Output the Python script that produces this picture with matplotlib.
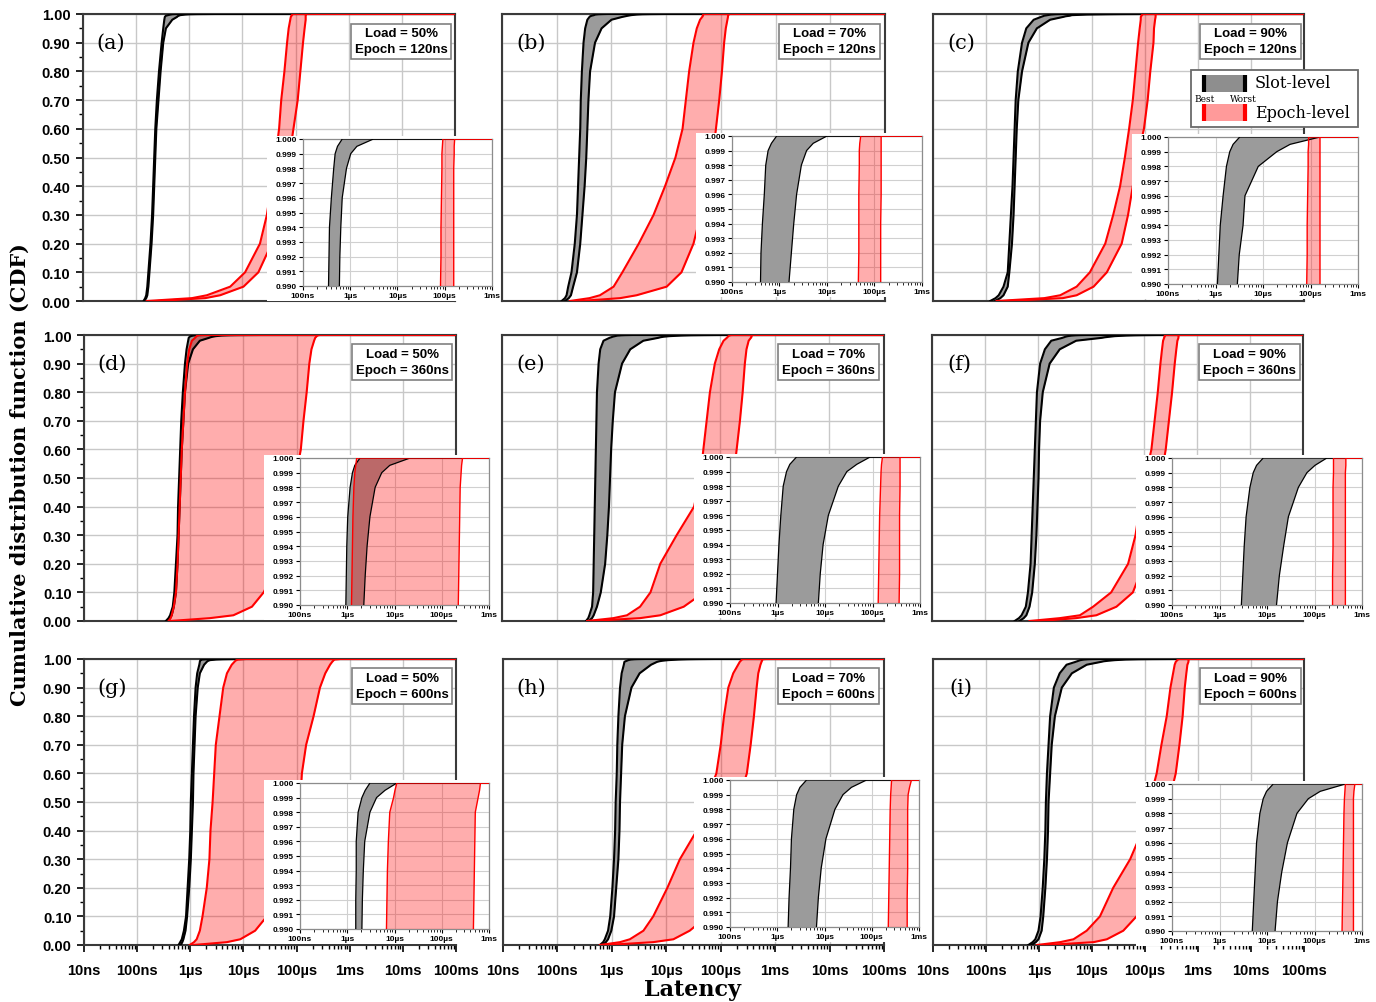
import numpy as np
import matplotlib
matplotlib.use("Agg")
import matplotlib.pyplot as plt
from matplotlib.patches import Rectangle
from matplotlib.lines import Line2D
from matplotlib.ticker import FixedLocator, LogLocator, MultipleLocator, NullFormatter

W, H = 1376, 1003

CDF_LEVELS = [0.0, 0.01, 0.02, 0.05, 0.1, 0.2, 0.3, 0.4, 0.5, 0.6, 0.7, 0.8,
              0.9, 0.95, 0.98, 0.99, 0.992, 0.994, 0.996, 0.998, 0.999, 0.9995, 1.0]

PANEL_TAGS = ["(a)", "(b)", "(c)", "(d)", "(e)", "(f)", "(g)", "(h)", "(i)"]
LOADS = ["50%", "70%", "90%", "50%", "70%", "90%", "50%", "70%", "90%"]
EPOCHS = ["120ns", "120ns", "120ns", "360ns", "360ns", "360ns", "600ns", "600ns", "600ns"]

# latency values, log10 of nanoseconds, one list per panel
SLOT_BEST = [
    [2.14, 2.17, 2.19, 2.21, 2.23, 2.27, 2.30, 2.32, 2.34, 2.36, 2.39, 2.43, 2.48, 2.51, 2.53, 2.54, 2.55, 2.56, 2.60, 2.65, 2.68, 2.73, 2.83],
    [2.09, 2.15, 2.18, 2.21, 2.27, 2.33, 2.37, 2.39, 2.41, 2.43, 2.44, 2.46, 2.49, 2.52, 2.56, 2.60, 2.61, 2.64, 2.68, 2.71, 2.76, 2.83, 2.94],
    [2.08, 2.18, 2.24, 2.33, 2.41, 2.44, 2.47, 2.50, 2.52, 2.54, 2.56, 2.60, 2.68, 2.76, 2.90, 3.04, 3.07, 3.10, 3.16, 3.23, 3.30, 3.37, 3.51],
    [2.54, 2.59, 2.62, 2.67, 2.70, 2.73, 2.76, 2.77, 2.79, 2.81, 2.83, 2.86, 2.90, 2.93, 2.96, 2.97, 2.98, 2.99, 3.01, 3.06, 3.11, 3.16, 3.27],
    [2.54, 2.58, 2.60, 2.65, 2.67, 2.68, 2.69, 2.70, 2.71, 2.72, 2.73, 2.74, 2.77, 2.80, 2.86, 2.97, 3.00, 3.03, 3.07, 3.12, 3.19, 3.26, 3.40],
    [2.56, 2.64, 2.69, 2.77, 2.81, 2.86, 2.88, 2.90, 2.92, 2.94, 2.96, 2.98, 3.04, 3.13, 3.25, 3.46, 3.49, 3.52, 3.56, 3.64, 3.71, 3.78, 3.92],
    [2.78, 2.81, 2.84, 2.88, 2.92, 2.95, 2.98, 3.00, 3.01, 3.03, 3.05, 3.07, 3.10, 3.13, 3.17, 3.18, 3.18, 3.19, 3.19, 3.23, 3.31, 3.38, 3.48],
    [2.78, 2.84, 2.87, 2.93, 2.97, 3.01, 3.04, 3.06, 3.07, 3.09, 3.10, 3.12, 3.15, 3.18, 3.22, 3.23, 3.25, 3.28, 3.30, 3.35, 3.41, 3.48, 3.62],
    [2.80, 2.88, 2.93, 2.99, 3.03, 3.07, 3.10, 3.12, 3.13, 3.15, 3.18, 3.21, 3.28, 3.39, 3.52, 3.69, 3.72, 3.75, 3.78, 3.85, 3.92, 3.99, 4.13],
]
SLOT_WORST = [
    [2.15, 2.19, 2.21, 2.23, 2.25, 2.29, 2.32, 2.34, 2.36, 2.38, 2.42, 2.46, 2.51, 2.56, 2.68, 2.77, 2.78, 2.80, 2.83, 2.92, 3.01, 3.14, 3.49],
    [2.15, 2.22, 2.26, 2.30, 2.37, 2.43, 2.47, 2.51, 2.54, 2.56, 2.58, 2.61, 2.70, 2.82, 3.00, 3.20, 3.25, 3.30, 3.36, 3.46, 3.57, 3.71, 4.00],
    [2.17, 2.27, 2.33, 2.41, 2.44, 2.49, 2.52, 2.54, 2.56, 2.58, 2.61, 2.68, 2.80, 2.96, 3.21, 3.46, 3.50, 3.58, 3.62, 3.90, 4.29, 4.57, 5.20],
    [2.57, 2.62, 2.65, 2.69, 2.73, 2.76, 2.78, 2.80, 2.82, 2.84, 2.87, 2.90, 2.96, 3.05, 3.18, 3.35, 3.38, 3.42, 3.48, 3.59, 3.73, 3.90, 4.33],
    [2.59, 2.65, 2.68, 2.74, 2.81, 2.89, 2.93, 2.96, 2.98, 3.00, 3.03, 3.07, 3.20, 3.35, 3.59, 3.86, 3.90, 3.96, 4.07, 4.28, 4.46, 4.67, 4.95],
    [2.65, 2.73, 2.78, 2.84, 2.89, 2.94, 2.97, 2.99, 3.01, 3.02, 3.04, 3.09, 3.22, 3.41, 3.72, 4.20, 4.26, 4.35, 4.45, 4.66, 4.84, 5.01, 5.26],
    [2.82, 2.85, 2.87, 2.91, 2.94, 2.98, 3.01, 3.03, 3.05, 3.06, 3.08, 3.10, 3.14, 3.18, 3.26, 3.31, 3.32, 3.34, 3.37, 3.48, 3.62, 3.80, 4.05],
    [2.83, 2.89, 2.93, 2.99, 3.04, 3.08, 3.12, 3.14, 3.15, 3.17, 3.19, 3.24, 3.36, 3.51, 3.72, 3.83, 3.87, 3.93, 4.03, 4.22, 4.39, 4.57, 4.89],
    [2.86, 2.94, 2.99, 3.05, 3.08, 3.12, 3.15, 3.17, 3.18, 3.21, 3.24, 3.30, 3.43, 3.62, 3.90, 4.17, 4.22, 4.31, 4.43, 4.63, 4.87, 5.12, 5.65],
]
EPOCH_BEST = [
    [2.20, 3.05, 3.33, 3.77, 4.05, 4.33, 4.46, 4.54, 4.62, 4.69, 4.73, 4.79, 4.84, 4.87, 4.90, 4.91, 4.92, 4.92, 4.93, 4.94, 4.94, 4.95, 4.96],
    [2.24, 2.60, 2.79, 3.04, 3.20, 3.50, 3.77, 3.98, 4.17, 4.30, 4.36, 4.42, 4.50, 4.56, 4.62, 4.66, 4.67, 4.67, 4.67, 4.68, 4.68, 4.69, 4.71],
    [2.20, 3.10, 3.40, 3.71, 3.96, 4.25, 4.40, 4.53, 4.62, 4.70, 4.77, 4.82, 4.87, 4.90, 4.92, 4.92, 4.93, 4.93, 4.94, 4.95, 4.95, 4.96, 4.96],
    [2.59, 2.63, 2.65, 2.69, 2.73, 2.76, 2.78, 2.80, 2.82, 2.84, 2.87, 2.90, 2.94, 2.98, 3.03, 3.09, 3.10, 3.11, 3.12, 3.14, 3.16, 3.18, 3.20],
    [2.56, 3.04, 3.29, 3.53, 3.72, 3.90, 4.20, 4.52, 4.63, 4.69, 4.75, 4.81, 4.90, 4.98, 5.06, 5.12, 5.13, 5.14, 5.15, 5.17, 5.18, 5.19, 5.21],
    [2.84, 3.41, 3.79, 4.04, 4.38, 4.70, 4.84, 4.92, 5.02, 5.14, 5.20, 5.26, 5.31, 5.34, 5.36, 5.38, 5.38, 5.39, 5.39, 5.39, 5.40, 5.40, 5.40],
    [2.99, 3.07, 3.12, 3.18, 3.23, 3.31, 3.36, 3.38, 3.42, 3.45, 3.48, 3.55, 3.62, 3.69, 3.78, 3.83, 3.84, 3.85, 3.87, 3.90, 3.98, 4.01, 4.05],
    [2.78, 3.15, 3.33, 3.58, 3.76, 4.02, 4.25, 4.56, 4.72, 4.92, 5.00, 5.06, 5.14, 5.23, 5.32, 5.35, 5.36, 5.37, 5.38, 5.39, 5.40, 5.41, 5.42],
    [2.96, 3.40, 3.65, 3.90, 4.15, 4.40, 4.72, 4.95, 5.08, 5.22, 5.31, 5.41, 5.48, 5.53, 5.56, 5.58, 5.59, 5.60, 5.61, 5.62, 5.63, 5.64, 5.65],
]
EPOCH_WORST = [
    [2.39, 3.30, 3.58, 4.02, 4.30, 4.55, 4.70, 4.80, 4.88, 4.96, 5.04, 5.09, 5.14, 5.17, 5.19, 5.19, 5.19, 5.19, 5.19, 5.19, 5.20, 5.20, 5.21],
    [2.43, 3.16, 3.46, 4.01, 4.28, 4.50, 4.63, 4.75, 4.85, 4.91, 4.97, 5.02, 5.06, 5.09, 5.12, 5.13, 5.13, 5.13, 5.14, 5.14, 5.14, 5.14, 5.14],
    [2.39, 3.45, 3.71, 4.03, 4.28, 4.56, 4.68, 4.77, 4.86, 4.98, 5.05, 5.10, 5.16, 5.17, 5.19, 5.20, 5.20, 5.20, 5.20, 5.20, 5.20, 5.20, 5.20],
    [2.62, 3.37, 3.81, 4.16, 4.38, 4.65, 4.80, 4.90, 4.98, 5.08, 5.13, 5.19, 5.24, 5.28, 5.33, 5.35, 5.36, 5.37, 5.38, 5.39, 5.41, 5.42, 5.44],
    [2.62, 3.53, 3.90, 4.33, 4.70, 4.95, 5.10, 5.18, 5.24, 5.30, 5.36, 5.41, 5.45, 5.48, 5.52, 5.56, 5.57, 5.57, 5.57, 5.58, 5.58, 5.58, 5.58],
    [3.03, 3.72, 4.10, 4.48, 4.79, 5.00, 5.12, 5.22, 5.32, 5.41, 5.47, 5.53, 5.58, 5.61, 5.63, 5.65, 5.65, 5.65, 5.65, 5.65, 5.65, 5.66, 5.66],
    [3.06, 3.69, 3.94, 4.22, 4.44, 4.70, 4.90, 5.00, 5.07, 5.10, 5.18, 5.32, 5.44, 5.54, 5.63, 5.67, 5.68, 5.69, 5.70, 5.71, 5.77, 5.80, 5.82],
    [2.90, 3.76, 4.13, 4.43, 4.75, 5.00, 5.15, 5.25, 5.32, 5.48, 5.55, 5.61, 5.66, 5.69, 5.73, 5.75, 5.75, 5.76, 5.76, 5.76, 5.77, 5.80, 5.84],
    [3.15, 4.03, 4.28, 4.59, 4.84, 5.10, 5.25, 5.35, 5.45, 5.58, 5.65, 5.71, 5.75, 5.78, 5.80, 5.82, 5.82, 5.82, 5.82, 5.82, 5.82, 5.83, 5.85],
]

MAIN_XTICKS = [1e-8, 1e-7, 1e-6, 1e-5, 1e-4, 1e-3, 1e-2, 1e-1]
MAIN_XLABELS = ["10ns", "100ns", "1µs", "10µs", "100µs", "1ms", "10ms", "100ms"]
INSET_XTICKS = [1e-7, 1e-6, 1e-5, 1e-4, 1e-3]
INSET_XLABELS = ["100ns", "1µs", "10µs", "100µs", "1ms"]
MAIN_YTICKS = [0.0, 0.1, 0.2, 0.3, 0.4, 0.5, 0.6, 0.7, 0.8, 0.9, 1.0]
INSET_YTICKS = [0.990, 0.991, 0.992, 0.993, 0.994, 0.995, 0.996, 0.997, 0.998, 0.999, 1.000]

# layout, in pixels of the 1376x1003 picture: (left, top, right, bottom)
MAIN_PX = [(83, 15, 455, 302), (502, 15, 885, 302), (933, 15, 1304, 302),
           (84, 336, 456, 622), (502, 336, 884, 622), (932, 336, 1303, 622),
           (84, 660, 456, 946), (503, 660, 884, 946), (933, 660, 1304, 946)]
INSET_PX = [(303, 140, 492, 287), (732, 137, 922, 283), (1168, 138, 1358, 285),
            (300, 459, 489, 606), (730, 458, 920, 604), (1172, 459, 1362, 606),
            (300, 784, 489, 930), (730, 781, 919, 928), (1172, 785, 1362, 932)]

GREY = "#9b9b9b"
PINK = (1.0, 0.0, 0.0, 0.32)
SANS = "Liberation Sans"
SERIF = "DejaVu Serif"

plt.rcParams["font.family"] = [SANS, "DejaVu Sans"]
plt.rcParams["font.weight"] = "bold"


def rect(px):
    x0, y0, x1, y1 = px
    return [x0 / W, 1 - y1 / H, (x1 - x0) / W, (y1 - y0) / H]


def fx(x):
    return x / W


def fy(y):
    return 1 - y / H


def draw_bands(ax, i, lw_black, lw_red):
    q = np.array(CDF_LEVELS + [1.0])

    def secs(v):
        return np.append(10.0 ** np.array(v) * 1e-9, 10.0)

    sb, sw = secs(SLOT_BEST[i]), secs(SLOT_WORST[i])
    eb, ew = secs(EPOCH_BEST[i]), secs(EPOCH_WORST[i])
    ax.fill_betweenx(q, sb, sw, color=GREY, lw=0, zorder=2)
    ax.fill_betweenx(q, eb, ew, color=PINK, lw=0, zorder=3)
    for x in (sb, sw):
        ax.plot(x, q, color="black", lw=lw_black, zorder=4)
    for x in (eb, ew):
        ax.plot(x, q, color="red", lw=lw_red, zorder=5)


fig = plt.figure(figsize=(W / 100, H / 100), dpi=100)

for i in range(9):
    row, col = divmod(i, 3)
    ax = fig.add_axes(rect(MAIN_PX[i]), zorder=0)
    ax.set_xscale("log")
    draw_bands(ax, i, 1.5, 1.5)
    ax.set_xlim(1e-8, 1e-1)
    ax.set_ylim(0, 1)
    ax.xaxis.set_major_locator(FixedLocator(MAIN_XTICKS))
    ax.set_yticks(MAIN_YTICKS)
    ax.grid(True, which="major", color="#c8c8c8", lw=1.0, zorder=0)
    ax.set_axisbelow(True)
    for s in ax.spines.values():
        s.set_color("#3a3a3a")
        s.set_linewidth(1.5)

    if row == 2:
        ax.set_xticklabels(MAIN_XLABELS, fontsize=10.5, fontweight="bold")
        ax.xaxis.set_minor_locator(LogLocator(base=10, subs=np.arange(2, 10), numticks=20))
        ax.xaxis.set_minor_formatter(NullFormatter())
        ax.tick_params(axis="x", which="major", direction="out", length=5, width=1.2, pad=8)
        ax.tick_params(axis="x", which="minor", direction="out", length=3, width=1)
    else:
        ax.tick_params(axis="x", which="both", bottom=False, labelbottom=False)

    if col == 0:
        ax.set_yticklabels([f"{v:.2f}" for v in MAIN_YTICKS], fontsize=10.5, fontweight="bold")
        ax.yaxis.set_minor_locator(MultipleLocator(0.05))
        ax.tick_params(axis="y", which="major", direction="out", length=5, width=1.2, pad=4)
        ax.tick_params(axis="y", which="minor", direction="out", length=3, width=1)
    else:
        ax.tick_params(axis="y", which="both", left=False, labelleft=False)

    ax.text(0.075, 0.90, PANEL_TAGS[i], transform=ax.transAxes, ha="center", va="center",
            fontsize=15, family=SERIF, fontweight="normal", zorder=6)
    ax.text(0.855, 0.905, f"Load = {LOADS[i]}\nEpoch = {EPOCHS[i]}", transform=ax.transAxes,
            ha="center", va="center", fontsize=9.5, fontweight="bold", linespacing=1.4, zorder=6,
            bbox=dict(boxstyle="square,pad=0.3", fc="white", ec="#808080", lw=1.2))

    # white patch that hides the main plot behind the inset and its labels
    x0, y0, x1, y1 = INSET_PX[i]
    fig.add_artist(Rectangle((fx(x0 - 36), fy(y1 + 15)), (x1 - x0 + 44) / W, (y1 - y0 + 18) / H,
                             transform=fig.transFigure, fc="white", ec="none", zorder=1))

    ins = fig.add_axes(rect(INSET_PX[i]), zorder=2)
    ins.set_xscale("log")
    draw_bands(ins, i, 0.9, 1.0)
    ins.set_xlim(1e-7, 1e-3)
    ins.set_ylim(0.990, 1.000)
    ins.xaxis.set_major_locator(FixedLocator(INSET_XTICKS))
    ins.set_xticklabels(INSET_XLABELS, fontsize=6, fontweight="bold")
    ins.xaxis.set_minor_locator(LogLocator(base=10, subs=np.arange(2, 10), numticks=20))
    ins.xaxis.set_minor_formatter(NullFormatter())
    ins.set_yticks(INSET_YTICKS)
    ins.set_yticklabels([f"{v:.3f}" for v in INSET_YTICKS], fontsize=6, fontweight="bold")
    ins.tick_params(which="major", direction="out", length=3, width=0.8, pad=1.5)
    ins.tick_params(which="minor", direction="out", length=1.8, width=0.6)
    ins.grid(True, which="major", color="#d0d0d0", lw=0.8)
    ins.set_axisbelow(True)
    for s in ins.spines.values():
        s.set_color("#8c8c8c")
        s.set_linewidth(0.9)

# legend drawn by hand inside panel (c)
LEG_Z = 10
fig.add_artist(Rectangle((fx(1191), fy(128)), 167 / W, 57 / H, transform=fig.transFigure,
                         fc="white", ec="#6a6a6a", lw=1.3, zorder=LEG_Z))
for y_top, y_bot, fill, edge in [(76, 93, "#8e8e8e", "black"), (105, 122, "#ff9a9a", "red")]:
    fig.add_artist(Rectangle((fx(1203), fy(y_bot)), 43 / W, (y_bot - y_top) / H,
                             transform=fig.transFigure, fc=fill, ec="none", zorder=LEG_Z + 1))
    for xe in (1204, 1245):
        fig.add_artist(Line2D([fx(xe), fx(xe)], [fy(y_top), fy(y_bot)], transform=fig.transFigure,
                              color=edge, lw=3, solid_capstyle="butt", zorder=LEG_Z + 2))
fig.text(fx(1255), fy(84), "Slot-level", ha="left", va="center", fontsize=11.5,
         family=SERIF, fontweight="normal", zorder=LEG_Z + 3)
fig.text(fx(1255), fy(113), "Epoch-level", ha="left", va="center", fontsize=11.5,
         family=SERIF, fontweight="normal", zorder=LEG_Z + 3)
fig.text(fx(1205), fy(99), "Best", ha="center", va="center", fontsize=6.5,
         family=SERIF, fontweight="normal", zorder=LEG_Z + 3)
fig.text(fx(1243), fy(99), "Worst", ha="center", va="center", fontsize=6.5,
         family=SERIF, fontweight="normal", zorder=LEG_Z + 3)

fig.text(fx(20), fy(475), "Cumulative distribution function (CDF)", rotation=90,
         ha="center", va="center", fontsize=15, family=SERIF, fontweight="bold")
fig.text(fx(693), fy(990), "Latency", ha="center", va="center", fontsize=16,
         family=SERIF, fontweight="bold")

fig.savefig("out.png", dpi=100)
